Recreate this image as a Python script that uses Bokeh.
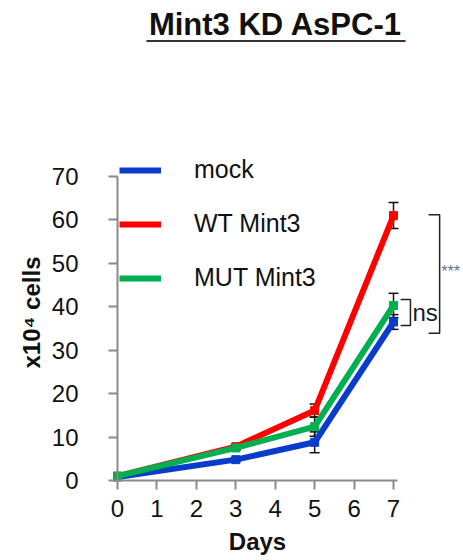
import math
from bokeh.plotting import figure
from bokeh.models import (Range1d, FixedTicker, Whisker, TeeHead, ColumnDataSource,
                          Legend, LegendItem, Label, BoxAnnotation)
from bokeh.embed import file_html
from bokeh.resources import INLINE

# ---- data ----
days = [0, 3, 5, 7]
mock = [0.8, 4.8, 8.8, 36.5]
mock_err = [0.0, 0.4, 2.4, 1.7]
wt = [1.0, 7.8, 16.1, 61.0]
wt_err = [0.0, 0.5, 1.5, 3.0]
mut = [1.0, 7.5, 12.4, 40.3]
mut_err = [0.0, 0.5, 2.2, 2.8]
series_names = ["mock", "WT Mint3", "MUT Mint3"]
x_ticks = [0, 1, 2, 3, 4, 5, 6, 7]
y_ticks = [0, 10, 20, 30, 40, 50, 60, 70]
title_text = "Mint3 KD AsPC-1"
x_label = "Days"
y_label = "x10\u2074 cells"

colors = ["#0a3ccc", "#ff0000", "#00b050"]
FONT = "Liberation Sans"

# ---- layout (pixels) ----
W, H = 463, 560
X0_PX, Y0_PX = 117, 480          # where day 0 / value 0 sit
PX_DAY = 276 / 7
PX_UNIT = 304 / 70


def dx(px):
    return (px - X0_PX) / PX_DAY


def dy(py):
    return (Y0_PX - py) / PX_UNIT


p = figure(width=W, height=H, output_backend="svg", toolbar_location=None,
           x_range=Range1d(dx(0), dx(W)), y_range=Range1d(dy(H), dy(0)),
           min_border=0, min_border_left=0, min_border_right=0,
           min_border_top=0, min_border_bottom=0,
           background_fill_color="white", border_fill_color="white",
           outline_line_color=None)
p.grid.visible = False

axis_col = "#8a8a8a"
for ax in (p.xaxis[0], p.yaxis[0]):
    ax.fixed_location = 0
    ax.axis_line_color = axis_col
    ax.axis_line_width = 2
    ax.major_tick_line_color = axis_col
    ax.major_tick_line_width = 2
    ax.major_tick_in = 0
    ax.major_tick_out = 9
    ax.minor_tick_line_color = None
    ax.major_label_text_font = FONT
    ax.major_label_text_font_size = "24px"
    ax.major_label_text_color = "#111111"

p.xaxis.ticker = FixedTicker(ticks=x_ticks)
p.yaxis.ticker = FixedTicker(ticks=y_ticks)
p.xaxis.bounds = (0, 7.1)
p.yaxis.bounds = (0, 70)
p.xaxis.major_label_standoff = 10
p.yaxis.major_label_standoff = 30

items = []
for name, vals, errs, col in zip(series_names, [mock, wt, mut],
                                  [mock_err, wt_err, mut_err], colors):
    r_line = p.line(days, vals, line_color=col, line_width=6)
    p.scatter(days, vals, marker="square", size=8, fill_color=col, line_color=col)
    sel = [i for i, e in enumerate(errs) if e > 0]
    src = ColumnDataSource(data=dict(
        base=[days[i] for i in sel],
        upper=[vals[i] + errs[i] for i in sel],
        lower=[vals[i] - errs[i] for i in sel]))
    wk = Whisker(source=src, base="base", upper="upper", lower="lower",
                 line_color="#111111", line_width=1.5,
                 upper_head=TeeHead(size=10, line_color="#111111", line_width=1.5),
                 lower_head=TeeHead(size=10, line_color="#111111", line_width=1.5))
    p.add_layout(wk)
    items.append(LegendItem(label=name, renderers=[r_line]))

legend = Legend(items=items, location=(119, 268), orientation="vertical",
                glyph_width=42, glyph_height=28, label_height=28,
                label_standoff=33, spacing=25, padding=0, margin=0,
                border_line_color=None, background_fill_alpha=0,
                label_text_font=FONT, label_text_font_size="25px",
                label_text_color="#111111")
p.add_layout(legend, "center")

# significance brackets (derived from the day-7 values)
big_top = wt[-1] + 0.2
big_bot = mock[-1] - mock_err[-1] - 0.9
bx0, bx1 = 7.89, 8.17
p.line([bx0, bx1, bx1, bx0], [big_top, big_top, big_bot, big_bot],
       line_color="#222222", line_width=1.5)
ns_top = mut[-1] + 1.4
ns_bot = mock[-1] - 0.8
nx0, nx1 = 7.18, 7.43
p.line([nx0, nx1, nx1, nx0], [ns_top, ns_top, ns_bot, ns_bot],
       line_color="#222222", line_width=1.5)
p.add_layout(Label(x=nx1 + 0.05, y=(ns_top + ns_bot) / 2, text="ns",
                   text_font=FONT, text_font_size="24px", text_color="#1a1a2e",
                   text_baseline="middle", text_align="left"))
p.add_layout(Label(x=bx1 + 0.04, y=(big_top + big_bot) / 2 + 0.6, text="***",
                   text_font=FONT, text_font_size="16px", text_color="#5b74a8",
                   text_baseline="middle", text_align="left"))

# axis titles
p.add_layout(Label(x=dx(257), y=dy(541), text=x_label, text_font=FONT,
                   text_font_size="24px", text_font_style="bold",
                   text_color="#111111", text_align="center",
                   text_baseline="middle"))
p.add_layout(Label(x=dx(31), y=dy(312), text=y_label, angle=math.pi / 2,
                   text_font=FONT, text_font_size="24px",
                   text_font_style="bold", text_color="#111111",
                   text_align="center", text_baseline="middle"))

# title with underline
p.add_layout(Label(x=dx(275), y=dy(23.5), text=title_text, text_font=FONT,
                   text_font_size="31px", text_font_style="bold",
                   text_color="#111111", text_align="center",
                   text_baseline="middle"))
p.add_layout(BoxAnnotation(left=dx(146), right=dx(405), top=dy(39.5),
                           bottom=dy(41.5), fill_color="#333333",
                           fill_alpha=1, line_color=None))

open("out.html", "w").write(file_html(p, INLINE))
